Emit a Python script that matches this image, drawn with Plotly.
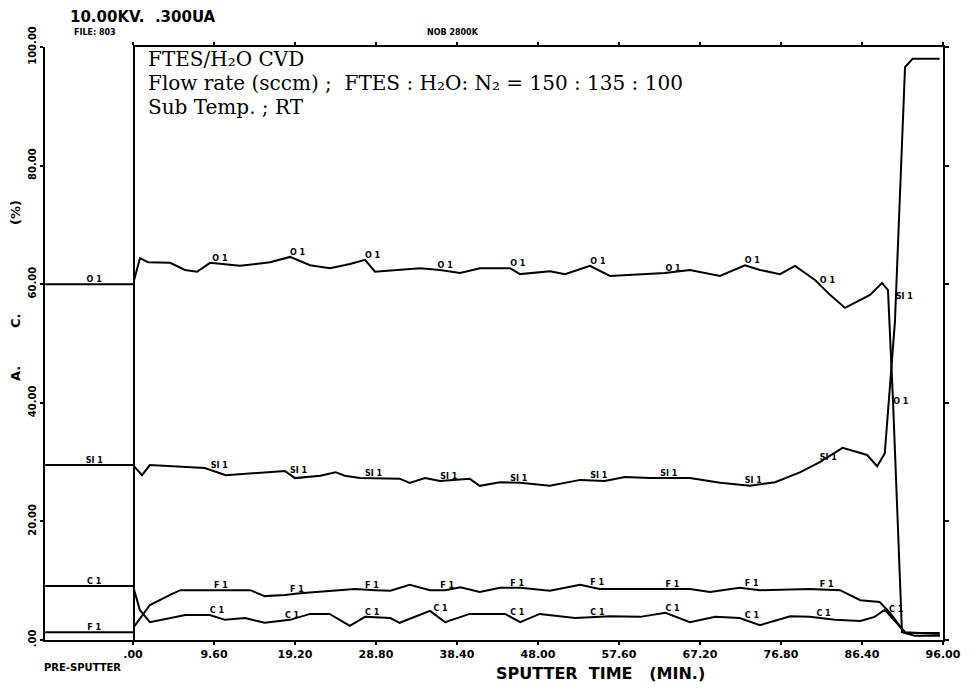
import numpy as np
import plotly.graph_objects as go

# ---------------- data ----------------
PRE_T = [-10.4, 0.0]
PRE_O, PRE_SI, PRE_C, PRE_F = 60.0, 29.5, 9.1, 1.3

o_t = [0, 0.83, 1.78, 4.39, 6.16, 7.59, 9.13, 12.68, 16.24, 18.61, 20.98, 23.35, 25.72, 27.5,
       28.68, 31.05, 34.01, 36.38, 38.76, 41.13, 44.68, 45.87, 49.42, 51.2, 54.16, 56.53, 60.09,
       63.05, 66.01, 69.57, 72.53, 74.31, 76.68, 78.46, 80.83, 82.61, 84.39, 87.35, 88.77, 89.48,
       90.07, 91.14, 92.68, 95.64]
o_v = [60, 64.4, 63.7, 63.6, 62.4, 62.1, 63.6, 63.1, 63.7, 64.6, 63.2, 62.7, 63.4, 64.1,
       62.1, 62.4, 62.7, 62.4, 61.9, 62.7, 62.7, 61.7, 62.2, 61.7, 63.1, 61.4, 61.7,
       61.9, 62.4, 61.4, 63.2, 62.4, 61.7, 63.1, 60.7, 58.2, 56.0, 58.2, 60.2, 59.0,
       40.5, 1.3, 0.7, 0.7]

si_t = [0, 1.07, 2.0, 8.5, 11.0, 12.7, 18.0, 19.2, 22.2, 24.0, 25.1, 26.9, 31.6, 32.8, 34.6,
        36.4, 39.9, 41.1, 43.5, 45.9, 49.4, 53.0, 55.9, 58.3, 61.3, 66.0, 69.6, 73.1, 76.1,
        79.1, 81.4, 84.1, 87.0, 88.2, 89.1, 90.3, 91.5, 92.4, 95.6]
si_v = [29.5, 27.8, 29.5, 29.0, 27.8, 28.0, 28.5, 27.3, 27.7, 28.3, 27.7, 27.3, 27.2, 26.5, 27.3,
        26.8, 27.2, 26.0, 26.6, 26.5, 26.0, 27.0, 26.8, 27.5, 27.3, 27.3, 26.5, 26.0, 26.6,
        28.3, 30.0, 32.4, 31.2, 29.3, 31.5, 53.6, 96.6, 98.0, 98.0]

f_t = [0, 2.0, 4.4, 5.6, 9.1, 13.9, 15.6, 18.0, 19.8, 24.0, 26.3, 28.7, 30.5, 32.8, 35.2, 37.0,
       38.8, 41.1, 43.5, 45.9, 49.4, 53.0, 55.3, 60.1, 66.0, 68.4, 71.9, 74.3, 80.2, 83.8, 86.2,
       88.5, 89.7, 91.5, 95.6]
f_v = [2.0, 5.9, 7.6, 8.4, 8.4, 8.4, 7.4, 7.6, 7.9, 8.4, 8.6, 8.4, 8.3, 9.3, 8.4, 8.4,
       8.9, 8.1, 8.8, 8.8, 8.3, 9.3, 8.6, 8.6, 8.6, 8.1, 8.8, 8.4, 8.6, 8.4, 6.7,
       6.4, 4.6, 1.2, 1.2]

c_t = [0, 0.8, 2.0, 4.4, 6.2, 9.1, 10.9, 13.3, 15.6, 18.6, 21.0, 23.3, 25.7, 27.5, 30.5, 31.6,
       35.2, 37.0, 39.9, 44.1, 45.9, 48.2, 52.4, 56.5, 60.1, 63.1, 66.0, 69.0, 71.9, 74.3, 77.9,
       80.2, 83.2, 86.2, 87.9, 89.1, 91.5, 95.6]
c_v = [9.1, 5.1, 3.0, 3.7, 4.2, 4.2, 3.4, 3.7, 2.9, 3.4, 4.4, 4.4, 2.4, 3.9, 3.7, 2.9,
       4.9, 3.0, 4.4, 4.4, 3.0, 4.4, 3.7, 4.0, 3.9, 4.6, 3.0, 3.9, 3.7, 2.5, 4.0,
       3.9, 3.4, 3.2, 3.9, 5.1, 1.3, 1.0]

# element label positions (time, min)
o_lab = [9.4, 18.6, 27.5, 36.1, 44.7, 54.2, 63.1, 72.5, 81.4, 90.1]
si_lab = [9.2, 18.6, 27.5, 36.4, 44.7, 54.2, 62.5, 72.5, 81.4, 90.4]
f_lab = [9.6, 18.6, 27.5, 36.4, 44.7, 54.2, 63.1, 72.5, 81.4]
c_lab = [9.1, 18.0, 27.5, 35.6, 44.7, 54.2, 63.1, 72.5, 81.0, 89.6]
PRE_LAB_T = -4.6

x_tickvals = [0, 9.6, 19.2, 28.8, 38.4, 48.0, 57.6, 67.2, 76.8, 86.4, 96.0]
x_ticktext = [".00", "9.60", "19.20", "28.80", "38.40", "48.00", "57.60", "67.20", "76.80", "86.40", "96.00"]
y_tickvals = [0, 20, 40, 60, 80, 100]
y_ticktext = [".00", "20.00", "40.00", "60.00", "80.00", "100.00"]

# ---------------- figure ----------------
OFF = 8                      # browser body margin
W, H = 979 - 2 * OFF, 691 - 2 * OFF
L, T = 45 - OFF, 47 - OFF
plot_w, plot_h = 898, 593
R = W - L - plot_w
B = H - T - plot_h
pre_frac = 88 / plot_w

DOT = "DejaVu Sans"
line = dict(color="black", width=2)
lab_font = dict(family=DOT, size=8, color="black", weight="bold")

fig = go.Figure()

# pre-sputter levels
for v, name in [(PRE_O, "O 1"), (PRE_SI, "SI 1"), (PRE_C, "C 1"), (PRE_F, "F 1")]:
    fig.add_trace(go.Scatter(x=PRE_T, y=[v, v], mode="lines", line=line,
                             xaxis="x", yaxis="y", showlegend=False, hoverinfo="skip"))
    fig.add_trace(go.Scatter(x=[PRE_LAB_T], y=[v], mode="text", text=[name],
                             textposition="top center", textfont=lab_font,
                             xaxis="x", yaxis="y", showlegend=False, hoverinfo="skip"))

# main profile
for tt, vv, labs, name in [(o_t, o_v, o_lab, "O 1"), (si_t, si_v, si_lab, "SI 1"),
                           (f_t, f_v, f_lab, "F 1"), (c_t, c_v, c_lab, "C 1")]:
    fig.add_trace(go.Scatter(x=tt, y=vv, mode="lines", line=line,
                             xaxis="x2", yaxis="y2", showlegend=False, name=name))
    fig.add_trace(go.Scatter(x=labs, y=np.interp(labs, tt, vv), mode="text",
                             text=[name] * len(labs), textposition="top right",
                             textfont=lab_font, xaxis="x2", yaxis="y2",
                             showlegend=False, hoverinfo="skip"))

xtick_font = dict(family=DOT, size=11, color="black", weight="bold")
ytick_font = dict(family=DOT, size=10, color="black", weight="bold")

fig.update_layout(
    width=W, height=H,
    margin=dict(l=L, r=R, t=T, b=B, autoexpand=False),
    paper_bgcolor="white", plot_bgcolor="white",
    xaxis=dict(domain=[0, pre_frac], range=[-10.43, 0], anchor="y",
               showline=True, linecolor="black", linewidth=2,
               showticklabels=False, ticks="", showgrid=False, zeroline=False),
    yaxis=dict(domain=[0, 1], range=[0, 100], anchor="x",
               showline=True, linecolor="black", linewidth=2, mirror=True,
               ticks="outside", ticklen=3, tickwidth=2, tickcolor="black",
               tickvals=y_tickvals, ticktext=y_ticktext, tickangle=-90,
               tickfont=ytick_font, showgrid=False, zeroline=False),
    xaxis2=dict(domain=[pre_frac, 1], range=[0, 96], anchor="y2",
                showline=True, linecolor="black", linewidth=2, mirror="ticks",
                ticks="outside", ticklen=3, tickwidth=2, tickcolor="black",
                tickvals=x_tickvals, ticktext=x_ticktext, tickfont=xtick_font,
                showgrid=False, zeroline=False),
    yaxis2=dict(domain=[0, 1], range=[0, 100], anchor="x2", side="right",
                showline=True, linecolor="black", linewidth=2,
                ticks="outside", ticklen=4, tickwidth=2, tickcolor="black",
                tickvals=y_tickvals, showticklabels=False,
                showgrid=False, zeroline=False),
)

def px(xp):
    return (xp - OFF - L) / plot_w

def py(yp):
    return (OFF + T + plot_h - yp) / plot_h

def bold(size):
    return dict(family=DOT, size=size, color="black", weight="bold")

serif = dict(family="DejaVu Serif", size=20, color="black")

annos = [
    dict(text="10.00KV.  .300UA", x=px(68), y=py(17), xanchor="left", yanchor="middle", font=bold(15)),
    dict(text="FILE: 803", x=px(72), y=py(33), xanchor="left", yanchor="middle", font=bold(8)),
    dict(text="NOB 2800K", x=px(425), y=py(33), xanchor="left", yanchor="middle", font=bold(8)),
    dict(text="(%)", x=px(15), y=py(212), xanchor="center", yanchor="middle", textangle=-90, font=bold(13)),
    dict(text="C.", x=px(15), y=py(321), xanchor="center", yanchor="middle", textangle=-90, font=bold(13)),
    dict(text="A.", x=px(15), y=py(373), xanchor="center", yanchor="middle", textangle=-90, font=bold(13)),
    dict(text="SPUTTER  TIME   (MIN.)", x=px(600), y=py(673), xanchor="center", yanchor="middle", font=bold(16)),
    dict(text="PRE-SPUTTER", x=px(42), y=py(667), xanchor="left", yanchor="middle", font=bold(10)),
    dict(text="FTES/H₂O CVD", x=px(146), y=py(59), xanchor="left", yanchor="middle", font=serif),
    dict(text="Flow rate (sccm) ;  FTES : H₂O: N₂ = 150 : 135 : 100",
         x=px(146), y=py(83), xanchor="left", yanchor="middle", font=serif),
    dict(text="Sub Temp. ; RT", x=px(146), y=py(107), xanchor="left", yanchor="middle", font=serif),
]
for a in annos:
    a.update(xref="paper", yref="paper", showarrow=False)
fig.update_layout(annotations=annos)

fig.write_html("out.html")
